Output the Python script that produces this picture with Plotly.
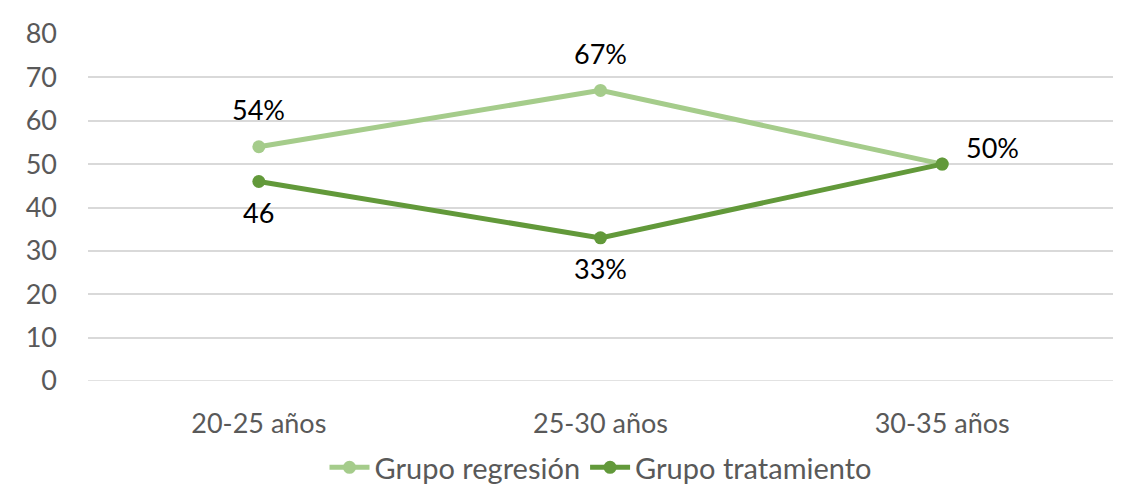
import plotly.graph_objects as go

categories = ["20-25 años", "25-30 años", "30-35 años"]
regresion = [54, 67, 50]
tratamiento = [46, 33, 50]
regresion_labels = ["54%", "67%", "50%"]
tratamiento_labels = ["46", "33%", ""]
y_ticks = [0, 10, 20, 30, 40, 50, 60, 70, 80]

light = "#A5CC8B"
dark = "#62993A"
font_family = "Lato, 'Open Sans', sans-serif"

fig = go.Figure()
fig.add_trace(go.Scatter(
    x=categories, y=regresion, name="Grupo regresión", mode="lines+markers",
    line=dict(color=light, width=5), marker=dict(size=13, color=light),
))
fig.add_trace(go.Scatter(
    x=categories, y=tratamiento, name="Grupo tratamiento", mode="lines+markers",
    line=dict(color=dark, width=5), marker=dict(size=13, color=dark),
))

# value labels: regression above its points, treatment below
for i, (cat, val, lab) in enumerate(zip(categories, regresion, regresion_labels)):
    if i == 2:
        fig.add_annotation(x=cat, y=val, text=lab, showarrow=False,
                           xanchor="left", xshift=22, yshift=17)
    else:
        fig.add_annotation(x=cat, y=val, text=lab, showarrow=False, yshift=37)
for cat, val, lab in zip(categories, tratamiento, tratamiento_labels):
    if lab:
        fig.add_annotation(x=cat, y=val, text=lab, showarrow=False, yshift=-31)

fig.update_annotations(font=dict(family=font_family, size=27, color="#000000"))

fig.update_layout(
    width=1128, height=487,
    margin=dict(l=88, r=15, t=34, b=106, autoexpand=False),
    paper_bgcolor="white", plot_bgcolor="white",
    font=dict(family=font_family, size=27, color="#595959"),
    showlegend=True,
    legend=dict(orientation="h", x=0.5, xanchor="center", yref="container",
                y=0.04, yanchor="middle",
                font=dict(size=29, color="#595959"), itemwidth=40),
    xaxis=dict(range=[-0.5, 2.5], showgrid=False, zeroline=False, showline=False,
               ticks="", ticklabelstandoff=24),
    yaxis=dict(range=[0, 80], tickvals=y_ticks, showgrid=True, gridcolor="#D9D9D9",
               gridwidth=1.5, zeroline=False, showline=False, ticks="",
               ticklabelstandoff=30),
)
# baseline at 0
fig.add_shape(type="line", xref="paper", x0=0, x1=1, yref="y", y0=0, y1=0,
              line=dict(color="#D9D9D9", width=1.5), layer="below")

fig.write_html("out.html")
